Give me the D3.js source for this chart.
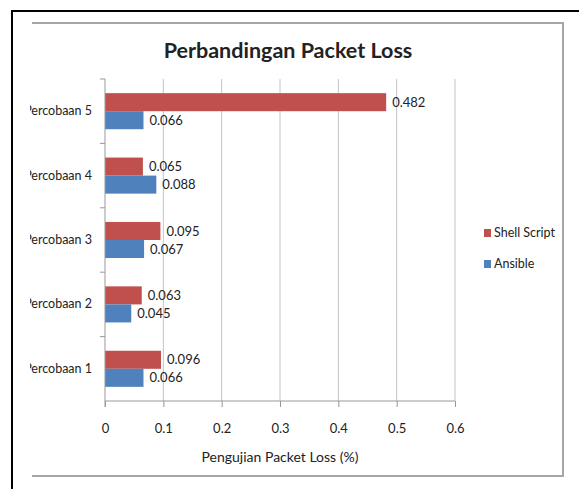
<!DOCTYPE html>
<html>
<head>
  <meta charset="UTF-8">
  <title>Perbandingan Packet Loss</title>
  <style>
    body { margin: 0; background: #fff; }
    svg text { font-family: Lato, "Liberation Sans Narrow", sans-serif; fill: #222; }
  </style>
</head>
<body>
<svg></svg>
<script src="https://d3js.org/d3.v7.min.js"></script>
<script>
  // data
  var categories = ["Percobaan 1", "Percobaan 2", "Percobaan 3", "Percobaan 4", "Percobaan 5"];
  var seriesNames = ["Shell Script", "Ansible"];
  var shellScript = [0.096, 0.063, 0.095, 0.065, 0.482];
  var ansible = [0.066, 0.045, 0.067, 0.088, 0.066];
  var xTicks = [0, 0.1, 0.2, 0.3, 0.4, 0.5, 0.6];
  var colors = ["#C0504D", "#4F81BD"];

  let width = 579, height = 489;
  let svg = d3.select("svg").attr("width", width).attr("height", height);

  // outer black frame (runs off the right and bottom)
  svg.append("path")
    .attr("d", "M12," + height + " L12,11 L" + width + ",11")
    .attr("fill", "none").attr("stroke", "#000").attr("stroke-width", 2);

  // chart area frame (left side hidden)
  svg.append("path")
    .attr("d", "M32,23 L563,23 L563,476 L32,476")
    .attr("fill", "none").attr("stroke", "#a6a6a6").attr("stroke-width", 2);

  svg.append("defs").append("clipPath").attr("id", "clip")
    .append("rect").attr("x", 30).attr("y", 23).attr("width", 533).attr("height", 453);

  let chart = svg.append("g").attr("clip-path", "url(#clip)");

  chart.append("text")
    .attr("x", 288).attr("y", 58)
    .attr("text-anchor", "middle")
    .style("font-size", "21.5px").style("font-weight", "bold")
    .text("Perbandingan Packet Loss");

  let pLeft = 105, pRight = 455, pTop = 79, pBottom = 401;

  let x = d3.scaleLinear().domain([0, 0.6]).range([pLeft, pRight]);
  let y = d3.scaleBand().domain(categories.slice().reverse()).range([pTop, pBottom])
    .paddingInner(0.44).paddingOuter(0.22);
  let ySub = d3.scaleBand().domain(seriesNames).range([0, y.bandwidth()]);

  // gridlines
  chart.append("g").selectAll("line")
    .data(xTicks.slice(1))
    .enter().append("line")
    .attr("x1", d => x(d)).attr("x2", d => x(d))
    .attr("y1", pTop).attr("y2", pBottom)
    .attr("stroke", "#c4c4c4").attr("stroke-width", 1);

  // bars
  let rows = categories.map((c, i) => ({ cat: c, values: [shellScript[i], ansible[i]] }));
  let groups = chart.append("g").selectAll("g")
    .data(rows).enter().append("g")
    .attr("transform", d => "translate(0," + y(d.cat) + ")");

  groups.selectAll("rect")
    .data(d => d.values.map((v, j) => ({ name: seriesNames[j], v: v, j: j })))
    .enter().append("rect")
    .attr("x", x(0))
    .attr("y", d => ySub(d.name))
    .attr("width", d => x(d.v) - x(0))
    .attr("height", ySub.bandwidth())
    .attr("fill", d => colors[d.j]);

  groups.selectAll("text")
    .data(d => d.values.map((v, j) => ({ name: seriesNames[j], v: v })))
    .enter().append("text")
    .attr("x", d => x(d.v) + 6)
    .attr("y", d => ySub(d.name) + ySub.bandwidth() / 2)
    .attr("dy", "0.35em")
    .style("font-size", "13px")
    .text(d => d3.format(".3f")(d.v));

  // y axis
  let yAxis = chart.append("g")
    .attr("transform", "translate(" + pLeft + ",0)")
    .call(d3.axisLeft(y).tickSize(0).tickPadding(13));
  yAxis.select(".domain").remove();
  yAxis.selectAll("text").style("font-size", "12.5px").attr("fill", "#222");
  chart.append("line").attr("x1", pLeft).attr("x2", pLeft).attr("y1", pTop).attr("y2", pBottom + 6)
    .attr("stroke", "#999");
  // category boundary ticks
  let bounds = d3.range(categories.length).map(i => pTop + i * y.step());
  chart.append("g").selectAll("line").data(bounds)
    .enter().append("line")
    .attr("x1", pLeft - 5).attr("x2", pLeft)
    .attr("y1", d => d).attr("y2", d => d)
    .attr("stroke", "#999");

  // x axis
  let xAxis = chart.append("g")
    .attr("transform", "translate(0," + pBottom + ")")
    .call(d3.axisBottom(x).tickValues(xTicks).tickSize(6).tickPadding(17).tickFormat(d3.format("")));
  xAxis.select(".domain").attr("d", "M" + pLeft + ",0H" + pRight).attr("stroke", "#999");
  xAxis.selectAll(".tick line").attr("stroke", "#999");
  xAxis.selectAll("text").style("font-size", "13px").attr("fill", "#222");

  chart.append("text")
    .attr("x", (pLeft + pRight) / 2).attr("y", 462)
    .attr("text-anchor", "middle")
    .style("font-size", "14px")
    .text("Pengujian Packet Loss (%)");

  // legend
  let legend = chart.append("g").selectAll("g")
    .data(seriesNames).enter().append("g")
    .attr("transform", (d, i) => "translate(484," + (229 + i * 31) + ")");
  legend.append("rect").attr("width", 7).attr("height", 8).attr("fill", (d, i) => colors[i]);
  legend.append("text").attr("x", 10).attr("y", 4).attr("dy", "0.35em")
    .style("font-size", "12.5px").text(d => d);
</script>
</body>
</html>
